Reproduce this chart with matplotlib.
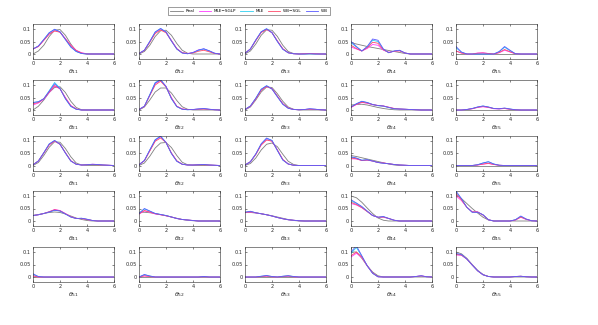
import numpy as np
import matplotlib.pyplot as plt

# density estimates, on a common grid
x = np.arange(0, 6.01, 0.4)
names = ['Real', 'MLE\u2212SGLP', 'MLE', 'WB\u2212SGL', 'WB']
colors = ['#7f7f7f', '#ff3cff', '#2fd0f0', '#ff4a6a', '#5a5aff']

# each panel: [Real, MLE-SGLP, MLE, WB-SGL, WB]
d11 = [[0.0, 0.012, 0.035, 0.07, 0.095, 0.098, 0.075, 0.04, 0.012, 0.002, 0, 0, 0, 0, 0, 0],
       [0.02, 0.03, 0.055, 0.08, 0.094, 0.088, 0.062, 0.035, 0.015, 0.005, 0.001, 0, 0, 0, 0, 0],
       [0.02, 0.032, 0.058, 0.085, 0.098, 0.088, 0.058, 0.028, 0.01, 0.002, 0, 0, 0, 0, 0, 0],
       [0.02, 0.03, 0.055, 0.08, 0.092, 0.087, 0.06, 0.034, 0.014, 0.004, 0, 0, 0, 0, 0, 0],
       [0.02, 0.032, 0.058, 0.085, 0.099, 0.089, 0.058, 0.028, 0.01, 0.002, 0, 0, 0, 0, 0, 0]]
d12 = [[0.0, 0.01, 0.035, 0.07, 0.093, 0.095, 0.075, 0.042, 0.015, 0.003, 0, 0, 0, 0, 0, 0],
       [0.002, 0.015, 0.05, 0.085, 0.1, 0.088, 0.055, 0.022, 0.005, 0.002, 0.006, 0.016, 0.02, 0.012, 0.003, 0],
       [0.002, 0.015, 0.05, 0.088, 0.102, 0.088, 0.052, 0.02, 0.004, 0.001, 0.005, 0.014, 0.02, 0.012, 0.003, 0],
       [0.002, 0.014, 0.047, 0.082, 0.096, 0.085, 0.053, 0.021, 0.005, 0.002, 0.004, 0.011, 0.015, 0.009, 0.002, 0],
       [0.002, 0.015, 0.05, 0.088, 0.102, 0.088, 0.052, 0.02, 0.004, 0.001, 0.006, 0.016, 0.021, 0.013, 0.003, 0]]
d13 = [[0.0, 0.012, 0.04, 0.075, 0.097, 0.095, 0.07, 0.035, 0.01, 0.002, 0, 0, 0, 0, 0, 0],
       [0.003, 0.02, 0.055, 0.087, 0.099, 0.086, 0.052, 0.021, 0.005, 0.001, 0, 0.001, 0.002, 0.001, 0, 0],
       [0.003, 0.02, 0.056, 0.089, 0.101, 0.085, 0.05, 0.019, 0.005, 0.001, 0, 0, 0.001, 0, 0, 0],
       [0.003, 0.02, 0.054, 0.086, 0.098, 0.085, 0.052, 0.021, 0.005, 0.001, 0, 0.001, 0.002, 0.001, 0, 0],
       [0.003, 0.02, 0.056, 0.089, 0.101, 0.085, 0.05, 0.019, 0.005, 0.001, 0, 0, 0.001, 0, 0, 0]]
d14 = [[0.045, 0.04, 0.035, 0.03, 0.026, 0.022, 0.018, 0.014, 0.01, 0.006, 0.002, 0, 0, 0, 0, 0],
       [0.028, 0.02, 0.012, 0.022, 0.038, 0.035, 0.015, 0.007, 0.011, 0.013, 0.004, 0, 0, 0, 0, 0],
       [0.045, 0.028, 0.012, 0.028, 0.055, 0.05, 0.018, 0.005, 0.012, 0.014, 0.004, 0, 0, 0, 0, 0],
       [0.035, 0.022, 0.012, 0.025, 0.047, 0.043, 0.017, 0.006, 0.011, 0.013, 0.004, 0, 0, 0, 0, 0],
       [0.05, 0.03, 0.012, 0.03, 0.06, 0.055, 0.02, 0.005, 0.012, 0.015, 0.004, 0, 0, 0, 0, 0]]
d15 = [[0, 0, 0, 0, 0, 0, 0, 0, 0, 0, 0, 0, 0, 0, 0, 0],
       [0.012, 0.004, 0, 0, 0.004, 0.005, 0.002, 0, 0.005, 0.015, 0.008, 0.001, 0, 0, 0, 0],
       [0.025, 0.007, 0, 0, 0, 0, 0, 0, 0.009, 0.027, 0.013, 0.001, 0, 0, 0, 0],
       [0.012, 0.004, 0, 0, 0.003, 0.004, 0.002, 0, 0.006, 0.018, 0.009, 0.001, 0, 0, 0, 0],
       [0.03, 0.008, 0, 0, 0, 0, 0, 0, 0.01, 0.03, 0.015, 0.001, 0, 0, 0, 0]]

d21 = [[0.0, 0.015, 0.04, 0.07, 0.09, 0.093, 0.07, 0.035, 0.01, 0.001, 0, 0, 0, 0, 0, 0],
       [0.02, 0.028, 0.043, 0.07, 0.095, 0.085, 0.05, 0.018, 0.004, 0, 0, 0, 0, 0, 0, 0],
       [0.03, 0.033, 0.045, 0.077, 0.11, 0.087, 0.045, 0.014, 0.003, 0, 0, 0, 0, 0, 0, 0],
       [0.025, 0.03, 0.045, 0.072, 0.098, 0.085, 0.048, 0.017, 0.004, 0, 0, 0, 0, 0, 0, 0],
       [0.03, 0.033, 0.045, 0.075, 0.105, 0.085, 0.045, 0.015, 0.003, 0, 0, 0, 0, 0, 0, 0]]
d22 = [[0.0, 0.012, 0.04, 0.072, 0.088, 0.088, 0.068, 0.038, 0.013, 0.003, 0, 0, 0, 0, 0, 0],
       [0.002, 0.015, 0.06, 0.105, 0.12, 0.095, 0.05, 0.015, 0.004, 0.002, 0.002, 0.004, 0.005, 0.003, 0.001, 0],
       [0.002, 0.015, 0.062, 0.11, 0.122, 0.093, 0.045, 0.013, 0.003, 0.001, 0.002, 0.004, 0.005, 0.003, 0.001, 0],
       [0.002, 0.014, 0.058, 0.1, 0.115, 0.092, 0.048, 0.015, 0.004, 0.002, 0.002, 0.003, 0.004, 0.002, 0.001, 0],
       [0.002, 0.015, 0.06, 0.108, 0.12, 0.094, 0.046, 0.014, 0.003, 0.001, 0.002, 0.004, 0.006, 0.003, 0.001, 0]]
d23 = [[0.0, 0.012, 0.04, 0.072, 0.092, 0.09, 0.065, 0.035, 0.012, 0.003, 0, 0, 0, 0, 0, 0],
       [0.002, 0.015, 0.045, 0.08, 0.095, 0.085, 0.055, 0.025, 0.008, 0.002, 0.001, 0.002, 0.004, 0.003, 0.001, 0],
       [0.002, 0.016, 0.047, 0.083, 0.097, 0.084, 0.053, 0.023, 0.007, 0.002, 0.001, 0.002, 0.004, 0.003, 0.001, 0],
       [0.002, 0.015, 0.045, 0.079, 0.094, 0.085, 0.055, 0.025, 0.008, 0.002, 0.001, 0.002, 0.003, 0.002, 0.001, 0],
       [0.002, 0.016, 0.047, 0.083, 0.097, 0.084, 0.053, 0.023, 0.007, 0.002, 0.001, 0.002, 0.005, 0.003, 0.001, 0]]
d24 = [[0.02, 0.022, 0.023, 0.02, 0.015, 0.01, 0.006, 0.003, 0.001, 0, 0, 0, 0, 0, 0, 0],
       [0.01, 0.022, 0.03, 0.027, 0.021, 0.018, 0.016, 0.011, 0.006, 0.004, 0.003, 0.002, 0.001, 0, 0, 0],
       [0.012, 0.025, 0.034, 0.03, 0.022, 0.017, 0.015, 0.01, 0.005, 0.004, 0.003, 0.002, 0.001, 0, 0, 0],
       [0.011, 0.023, 0.031, 0.028, 0.022, 0.018, 0.016, 0.011, 0.006, 0.004, 0.003, 0.002, 0.001, 0, 0, 0],
       [0.012, 0.025, 0.035, 0.03, 0.022, 0.018, 0.016, 0.01, 0.005, 0.004, 0.003, 0.002, 0.001, 0, 0, 0]]
d25 = [[0, 0, 0, 0, 0, 0, 0, 0, 0, 0, 0, 0, 0, 0, 0, 0],
       [0, 0, 0.002, 0.005, 0.01, 0.013, 0.01, 0.005, 0.004, 0.006, 0.003, 0.001, 0, 0, 0, 0],
       [0, 0, 0.002, 0.006, 0.012, 0.016, 0.012, 0.006, 0.005, 0.007, 0.004, 0.001, 0, 0, 0, 0],
       [0, 0, 0.002, 0.005, 0.011, 0.014, 0.011, 0.006, 0.005, 0.006, 0.003, 0.001, 0, 0, 0, 0],
       [0, 0, 0.002, 0.006, 0.012, 0.016, 0.012, 0.006, 0.005, 0.008, 0.004, 0.001, 0, 0, 0, 0]]

d31 = [[0.0, 0.012, 0.04, 0.073, 0.095, 0.093, 0.068, 0.035, 0.01, 0.002, 0, 0, 0, 0, 0, 0],
       [0.003, 0.018, 0.05, 0.083, 0.098, 0.085, 0.051, 0.019, 0.005, 0.002, 0.003, 0.005, 0.004, 0.002, 0.001, 0],
       [0.003, 0.018, 0.051, 0.086, 0.1, 0.085, 0.05, 0.018, 0.005, 0.002, 0.003, 0.004, 0.004, 0.002, 0.001, 0],
       [0.003, 0.018, 0.05, 0.083, 0.098, 0.085, 0.051, 0.019, 0.005, 0.002, 0.003, 0.004, 0.003, 0.002, 0.001, 0],
       [0.003, 0.018, 0.051, 0.086, 0.1, 0.085, 0.05, 0.018, 0.005, 0.002, 0.003, 0.005, 0.004, 0.002, 0.001, 0]]
d32 = [[0.0, 0.01, 0.037, 0.07, 0.09, 0.092, 0.072, 0.04, 0.013, 0.003, 0, 0, 0, 0, 0, 0],
       [0.003, 0.02, 0.06, 0.1, 0.115, 0.093, 0.05, 0.018, 0.005, 0.002, 0.002, 0.003, 0.004, 0.002, 0.001, 0],
       [0.003, 0.02, 0.062, 0.103, 0.117, 0.092, 0.048, 0.017, 0.005, 0.002, 0.002, 0.003, 0.004, 0.002, 0.001, 0],
       [0.003, 0.019, 0.058, 0.097, 0.11, 0.092, 0.05, 0.019, 0.005, 0.002, 0.002, 0.003, 0.003, 0.002, 0.001, 0],
       [0.003, 0.02, 0.062, 0.103, 0.117, 0.092, 0.048, 0.017, 0.005, 0.002, 0.002, 0.003, 0.004, 0.002, 0.001, 0]]
d33 = [[0.0, 0.008, 0.03, 0.062, 0.085, 0.09, 0.075, 0.045, 0.017, 0.004, 0, 0, 0, 0, 0, 0],
       [0.002, 0.015, 0.045, 0.083, 0.104, 0.098, 0.062, 0.024, 0.006, 0.001, 0, 0, 0, 0, 0, 0],
       [0.002, 0.015, 0.046, 0.086, 0.108, 0.1, 0.06, 0.022, 0.006, 0.001, 0, 0, 0, 0, 0, 0],
       [0.002, 0.015, 0.044, 0.082, 0.102, 0.097, 0.062, 0.024, 0.006, 0.001, 0, 0, 0, 0, 0, 0],
       [0.002, 0.015, 0.046, 0.087, 0.11, 0.1, 0.06, 0.022, 0.006, 0.001, 0, 0, 0, 0, 0, 0]]
d34 = [[0.04, 0.036, 0.031, 0.026, 0.021, 0.016, 0.011, 0.006, 0.002, 0, 0, 0, 0, 0, 0, 0],
       [0.027, 0.026, 0.02, 0.021, 0.018, 0.012, 0.01, 0.007, 0.004, 0.002, 0.001, 0, 0, 0, 0, 0],
       [0.033, 0.029, 0.021, 0.023, 0.018, 0.012, 0.009, 0.007, 0.004, 0.002, 0.001, 0, 0, 0, 0, 0],
       [0.03, 0.027, 0.02, 0.022, 0.018, 0.012, 0.01, 0.007, 0.004, 0.002, 0.001, 0, 0, 0, 0, 0],
       [0.035, 0.03, 0.021, 0.023, 0.018, 0.012, 0.009, 0.007, 0.004, 0.002, 0.001, 0, 0, 0, 0, 0]]
d35 = [[0, 0, 0, 0, 0, 0, 0, 0, 0, 0, 0, 0, 0, 0, 0, 0],
       [0, 0, 0, 0, 0.002, 0.005, 0.008, 0.004, 0.001, 0, 0, 0, 0, 0, 0, 0],
       [0, 0, 0, 0, 0.003, 0.01, 0.015, 0.006, 0.001, 0, 0, 0, 0, 0, 0, 0],
       [0, 0, 0, 0, 0.002, 0.006, 0.009, 0.004, 0.001, 0, 0, 0, 0, 0, 0, 0],
       [0, 0, 0, 0, 0.003, 0.01, 0.015, 0.006, 0.001, 0, 0, 0, 0, 0, 0, 0]]

d41 = [[0.022, 0.026, 0.03, 0.034, 0.036, 0.034, 0.028, 0.02, 0.012, 0.006, 0.002, 0, 0, 0, 0, 0],
       [0.022, 0.025, 0.03, 0.037, 0.046, 0.042, 0.03, 0.017, 0.01, 0.01, 0.006, 0.002, 0, 0, 0, 0],
       [0.022, 0.025, 0.03, 0.036, 0.043, 0.04, 0.028, 0.016, 0.01, 0.011, 0.007, 0.002, 0, 0, 0, 0],
       [0.022, 0.025, 0.03, 0.037, 0.045, 0.041, 0.029, 0.017, 0.01, 0.01, 0.006, 0.002, 0, 0, 0, 0],
       [0.022, 0.025, 0.03, 0.036, 0.043, 0.04, 0.028, 0.016, 0.01, 0.011, 0.007, 0.002, 0, 0, 0, 0]]
d42 = [[0.035, 0.035, 0.033, 0.03, 0.026, 0.021, 0.016, 0.011, 0.006, 0.003, 0.001, 0, 0, 0, 0, 0],
       [0.028, 0.04, 0.035, 0.028, 0.025, 0.021, 0.016, 0.01, 0.006, 0.004, 0.002, 0, 0, 0, 0, 0],
       [0.03, 0.048, 0.039, 0.03, 0.026, 0.022, 0.016, 0.01, 0.006, 0.004, 0.002, 0, 0, 0, 0, 0],
       [0.028, 0.042, 0.036, 0.029, 0.025, 0.021, 0.016, 0.01, 0.006, 0.004, 0.002, 0, 0, 0, 0, 0],
       [0.03, 0.05, 0.04, 0.03, 0.026, 0.022, 0.016, 0.01, 0.006, 0.004, 0.002, 0, 0, 0, 0, 0]]
d43 = [[0.035, 0.034, 0.032, 0.029, 0.025, 0.021, 0.016, 0.011, 0.006, 0.002, 0, 0, 0, 0, 0, 0],
       [0.033, 0.036, 0.032, 0.029, 0.025, 0.02, 0.014, 0.009, 0.005, 0.003, 0.001, 0, 0, 0, 0, 0],
       [0.035, 0.038, 0.033, 0.029, 0.025, 0.02, 0.014, 0.009, 0.005, 0.003, 0.001, 0, 0, 0, 0, 0],
       [0.034, 0.037, 0.033, 0.029, 0.025, 0.02, 0.014, 0.009, 0.005, 0.003, 0.001, 0, 0, 0, 0, 0],
       [0.035, 0.039, 0.033, 0.029, 0.025, 0.02, 0.014, 0.009, 0.005, 0.003, 0.001, 0, 0, 0, 0, 0]]
d44 = [[0.1, 0.093, 0.075, 0.052, 0.03, 0.012, 0.003, 0, 0, 0, 0, 0, 0, 0, 0, 0],
       [0.07, 0.064, 0.053, 0.038, 0.022, 0.015, 0.015, 0.01, 0.003, 0, 0, 0, 0, 0, 0, 0],
       [0.08, 0.07, 0.056, 0.038, 0.022, 0.015, 0.017, 0.01, 0.003, 0, 0, 0, 0, 0, 0, 0],
       [0.075, 0.066, 0.054, 0.038, 0.022, 0.015, 0.016, 0.01, 0.003, 0, 0, 0, 0, 0, 0, 0],
       [0.085, 0.072, 0.058, 0.04, 0.022, 0.015, 0.018, 0.01, 0.003, 0, 0, 0, 0, 0, 0, 0]]
d45 = [[0.105, 0.09, 0.07, 0.05, 0.032, 0.015, 0.004, 0, 0, 0, 0, 0, 0, 0, 0, 0],
       [0.1, 0.082, 0.055, 0.037, 0.037, 0.024, 0.005, 0, 0, 0, 0, 0.004, 0.015, 0.006, 0.001, 0],
       [0.115, 0.088, 0.055, 0.035, 0.035, 0.025, 0.005, 0, 0, 0, 0, 0.005, 0.018, 0.007, 0.001, 0],
       [0.11, 0.085, 0.055, 0.036, 0.036, 0.024, 0.005, 0, 0, 0, 0, 0.004, 0.016, 0.007, 0.001, 0],
       [0.12, 0.09, 0.055, 0.035, 0.035, 0.025, 0.005, 0, 0, 0, 0, 0.005, 0.02, 0.008, 0.001, 0]]

d51 = [[0, 0, 0, 0, 0, 0, 0, 0, 0, 0, 0, 0, 0, 0, 0, 0],
       [0.004, 0, 0, 0, 0, 0, 0, 0, 0, 0, 0, 0, 0, 0, 0, 0],
       [0.01, 0.001, 0, 0, 0, 0, 0, 0, 0, 0, 0, 0, 0, 0, 0, 0],
       [0.005, 0, 0, 0, 0, 0, 0, 0, 0, 0, 0, 0, 0, 0, 0, 0],
       [0.013, 0.002, 0, 0, 0, 0, 0, 0, 0, 0, 0, 0, 0, 0, 0, 0]]
d52 = [[0, 0, 0, 0, 0, 0, 0, 0, 0, 0, 0, 0, 0, 0, 0, 0],
       [0, 0.004, 0.002, 0, 0, 0, 0, 0, 0, 0, 0, 0, 0.001, 0, 0, 0],
       [0, 0.009, 0.004, 0, 0, 0, 0, 0, 0, 0, 0, 0, 0.001, 0, 0, 0],
       [0, 0.005, 0.002, 0, 0, 0, 0, 0, 0, 0, 0, 0, 0.001, 0, 0, 0],
       [0, 0.01, 0.004, 0, 0, 0, 0, 0, 0, 0, 0, 0, 0.002, 0, 0, 0]]
d53 = [[0, 0, 0, 0, 0, 0, 0, 0, 0, 0, 0, 0, 0, 0, 0, 0],
       [0, 0, 0, 0.002, 0.003, 0.001, 0, 0.002, 0.003, 0.001, 0, 0, 0, 0, 0, 0],
       [0, 0, 0, 0.003, 0.005, 0.002, 0, 0.003, 0.005, 0.002, 0, 0, 0, 0, 0, 0],
       [0, 0, 0, 0.002, 0.004, 0.001, 0, 0.002, 0.004, 0.001, 0, 0, 0, 0, 0, 0],
       [0, 0, 0, 0.003, 0.006, 0.002, 0, 0.003, 0.005, 0.002, 0, 0, 0, 0, 0, 0]]
d54 = [[0.1, 0.1, 0.075, 0.045, 0.02, 0.005, 0, 0, 0, 0, 0, 0, 0, 0, 0, 0],
       [0.08, 0.095, 0.078, 0.045, 0.016, 0.001, 0, 0, 0, 0, 0, 0, 0.002, 0.005, 0.001, 0],
       [0.095, 0.118, 0.083, 0.045, 0.015, 0.001, 0, 0, 0, 0, 0, 0, 0.002, 0.004, 0.001, 0],
       [0.085, 0.1, 0.08, 0.045, 0.016, 0.001, 0, 0, 0, 0, 0, 0, 0.002, 0.004, 0.001, 0],
       [0.1, 0.125, 0.085, 0.045, 0.015, 0.001, 0, 0, 0, 0, 0, 0, 0.002, 0.005, 0.001, 0]]
d55 = [[0.1, 0.093, 0.075, 0.05, 0.027, 0.01, 0.002, 0, 0, 0, 0, 0, 0, 0, 0, 0],
       [0.088, 0.087, 0.072, 0.048, 0.025, 0.009, 0.002, 0, 0, 0, 0, 0.002, 0.003, 0.001, 0, 0],
       [0.092, 0.089, 0.072, 0.048, 0.025, 0.009, 0.002, 0, 0, 0, 0, 0.002, 0.003, 0.001, 0, 0],
       [0.09, 0.088, 0.072, 0.048, 0.025, 0.009, 0.002, 0, 0, 0, 0, 0.002, 0.003, 0.001, 0, 0],
       [0.094, 0.09, 0.072, 0.048, 0.025, 0.009, 0.002, 0, 0, 0, 0, 0.002, 0.003, 0.001, 0, 0]]

panels = [[d11, d12, d13, d14, d15],
          [d21, d22, d23, d24, d25],
          [d31, d32, d33, d34, d35],
          [d41, d42, d43, d44, d45],
          [d51, d52, d53, d54, d55]]

W, H = 598, 325
fig = plt.figure(figsize=(W / 100, H / 100), dpi=100)
plt.rcParams['font.family'] = 'DejaVu Sans'

axcol = '#262626'
lefts = [33, 139, 245, 351, 456]
tops = [24, 80, 135.5, 191, 247]
aw, ah = 81, 35

for i in range(5):
    for j in range(5):
        ax = fig.add_axes([lefts[j] / W, 1 - (tops[i] + ah) / H, aw / W, ah / H])
        for k in range(5):
            ax.plot(x, panels[i][j][k], color=colors[k], lw=0.6, label=names[k])
        ax.set_xlim(0, 6)
        ax.set_ylim(-0.02, 0.12)
        ax.set_xticks([0, 2, 4, 6])
        ax.set_yticks([0, 0.05, 0.1])
        ax.set_yticklabels(['0', '0.05', '0.1'])
        ax.tick_params(direction='in', length=1.5, width=0.4, labelsize=3.6,
                       colors=axcol, pad=1.5, top=True, right=True)
        for s in ax.spines.values():
            s.set_linewidth(0.4)
            s.set_color(axcol)
        ax.set_xlabel(r'$\theta_{%d%d}$' % (i + 1, j + 1), fontsize=4.5,
                      color=axcol, labelpad=1)
        if i == 0 and j == 0:
            handles, labels = ax.get_legend_handles_labels()

leg = fig.legend(handles, labels, loc='center', ncol=5,
                 bbox_to_anchor=(249 / W, 1 - 11 / H), fontsize=3.0,
                 frameon=True, fancybox=False, edgecolor=axcol,
                 handlelength=3.0, columnspacing=1.0, handletextpad=0.6,
                 borderpad=0.5)
leg.get_frame().set_linewidth(0.4)

fig.savefig('out.png', dpi=100)
